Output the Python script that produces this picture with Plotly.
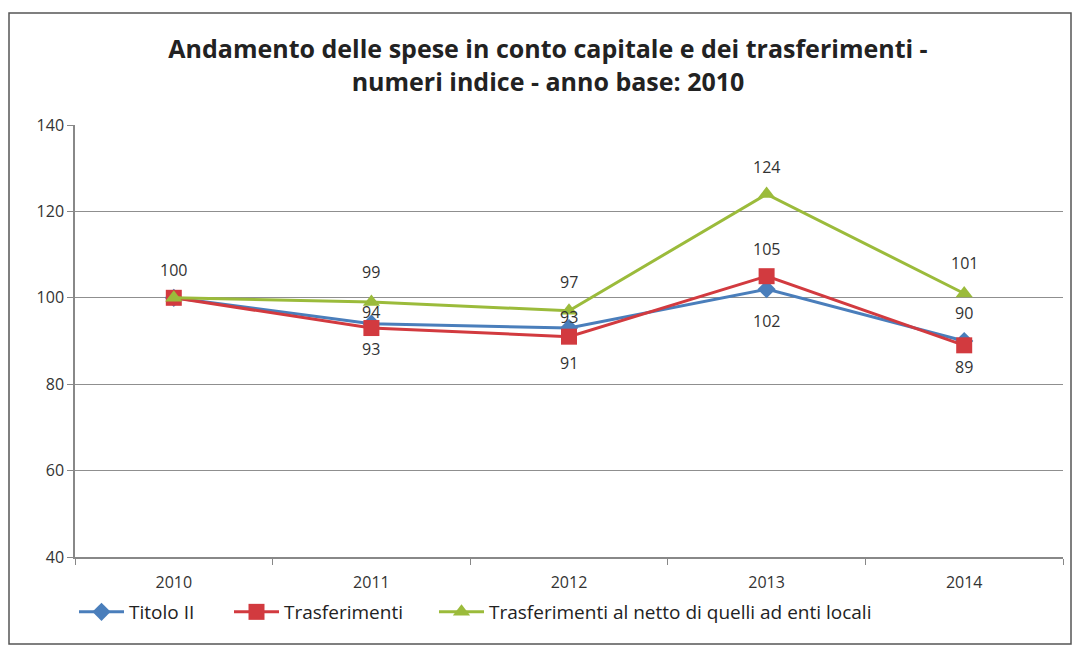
import plotly.graph_objects as go

years = ["2010", "2011", "2012", "2013", "2014"]
titolo_ii = [100, 94, 93, 102, 90]
trasferimenti = [100, 93, 91, 105, 89]
trasf_netto = [100, 99, 97, 124, 101]
y_ticks = [40, 60, 80, 100, 120, 140]

W, H = 1075, 648
L, R, T, B = 75, 12, 125, 91

blue = "#4A7EBB"
red = "#D23A3F"
green = "#9BBB3B"
FONT = "Open Sans, Noto Sans, sans-serif"

# label shift (px) for each point; None = no label (style only)
blue_shift = [None, 12, 11, -32, 28]
red_shift = [None, -21, -26, 27, -22]
green_shift = [28, 30, 29, 27, 30]

fig = go.Figure()

series = [
    ("Titolo II", titolo_ii, blue, "diamond", 14, blue_shift, "legend"),
    ("Trasferimenti", trasferimenti, red, "square", 16, red_shift, "legend2"),
    ("Trasferimenti al netto di quelli ad enti locali", trasf_netto, green, "triangle-up", 15, green_shift, "legend3"),
]

for name, vals, col, sym, size, shifts, leg in series:
    fig.add_trace(go.Scatter(
        x=years, y=vals, name=name, mode="lines+markers",
        line=dict(color=col, width=3),
        marker=dict(symbol=sym, size=size, color=col),
        legend=leg,
    ))
    for i, (yv, s) in enumerate(zip(vals, shifts)):
        if s is None:
            continue
        fig.add_annotation(x=i, y=yv, xref="x", yref="y", text=str(yv), showarrow=False,
                           yshift=s, xanchor="center", yanchor="middle",
                           font=dict(family=FONT, size=16, color="#333333"))

plot_w = W - L - R
plot_h = H - T - B
def px_to_paper_x(px):
    return (px - L) / plot_w
def px_to_paper_y(py):
    return (H - B - py) / plot_h

fig.add_shape(type="rect", xref="paper", yref="paper",
              x0=px_to_paper_x(9), x1=px_to_paper_x(1071),
              y0=px_to_paper_y(644), y1=px_to_paper_y(13),
              line=dict(color="#555555", width=1.5), fillcolor="rgba(0,0,0,0)", layer="below")

leg_font = dict(family=FONT, size=19, color="#222222")
leg_common = dict(orientation="h", xanchor="left", y=px_to_paper_y(612), yanchor="middle",
                  font=leg_font, bgcolor="rgba(0,0,0,0)", itemwidth=45)

fig.update_layout(
    width=W, height=H,
    margin=dict(l=L, r=R, t=T, b=B),
    paper_bgcolor="white", plot_bgcolor="white",
    title=dict(
        text="<b>Andamento delle spese in conto capitale e dei trasferimenti -<br>numeri indice - anno base: 2010</b>",
        x=548 / W, xref="container", xanchor="center", y=1 - 58 / H, yanchor="middle",
        font=dict(family=FONT, size=25, color="#222222"),
    ),
    showlegend=True,
    legend=dict(x=px_to_paper_x(74), **leg_common),
    legend2=dict(x=px_to_paper_x(229), **leg_common),
    legend3=dict(x=px_to_paper_x(434), **leg_common),
    xaxis=dict(
        type="category", range=[-0.5, 4.5], showgrid=False,
        showline=True, linecolor="#888888", linewidth=1.5,
        ticks="outside", tickson="boundaries", ticklen=6, tickcolor="#888888",
        ticklabelstandoff=10,
        tickfont=dict(family=FONT, size=16, color="#333333"),
    ),
    yaxis=dict(
        range=[40, 140], tickvals=y_ticks, showgrid=True, gridcolor="#8f8f8f", gridwidth=1.2,
        showline=True, linecolor="#888888", linewidth=1.5,
        ticks="outside", ticklen=6, tickcolor="#888888", zeroline=False,
        tickfont=dict(family=FONT, size=16, color="#333333"),
    ),
)

fig.write_html("out.html", config={"displayModeBar": False},
               post_script="document.body.style.margin='0';document.body.style.overflow='hidden';")
